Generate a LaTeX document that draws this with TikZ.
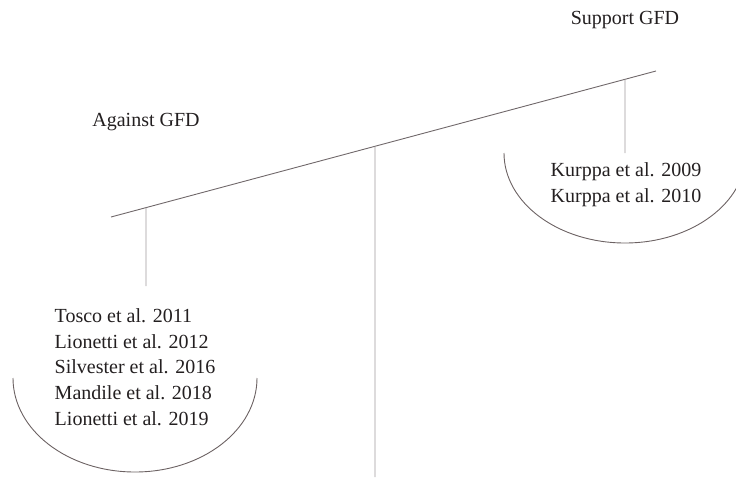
\documentclass[tikz,border=0pt]{standalone}
\usepackage{xcolor}
\usepackage{fontspec}
\setmainfont{Liberation Serif}
\usepackage{tikz}
\usetikzlibrary{
	arrows,
	arrows.meta,
	calc,
	positioning,
	}
\definecolor{beamgray}{RGB}{112,104,106}
\definecolor{hanggray}{RGB}{158,153,156}
\definecolor{arcgray}{RGB}{108,98,99}
\definecolor{txt}{RGB}{35,31,32}

\begin{document}
\begin{tikzpicture}[x=1pt, y=-1pt, font=\fontsize{20}{25.7}\selectfont]
			\useasboundingbox (0,0) rectangle (736,477);
			\coordinate (bl) at (111,217);
			\coordinate (br) at (656,71);
			\coordinate (piv) at ($(bl)!0.4844!(br)$);
			\coordinate (foot) at (375,477);
			\coordinate (hl) at ($(bl)!0.0642!(br)$);
			\coordinate (hr) at ($(bl)!0.9431!(br)$);
			\coordinate (hlb) at (146,286);
			\coordinate (hrb) at (625,153);
			\coordinate (al) at (13,378);
			\coordinate (ar) at (504,153);
			\node[text=txt] (against) at (146,122) {Against GFD};
			\node[text=txt] (support) at (625,20) {Support GFD};
			\node[text=txt, align=left] (contra) at (135,367) {Tosco et al. 2011\\Lionetti et al. 2012\\Silvester et al. 2016\\Mandile et al. 2018\\Lionetti et al. 2019};
			\node[text=txt, align=left] (pro) at (626,185) {Kurppa et al. 2009\\Kurppa et al. 2010};
			\draw[-, beamgray, line width=0.9pt] (bl) -- (br);
			\draw[-, hanggray, line width=0.9pt] (piv) -- (foot);
			\draw[-, hanggray, line width=0.9pt] (hl) -- (hlb);
			\draw[-, hanggray, line width=0.9pt] (hr) -- (hrb);
			\draw[-, arcgray, line width=0.9pt] (al) arc[start angle=180, end angle=0, x radius=122, y radius=94];
			\draw[-, arcgray, line width=0.9pt] (ar) arc[start angle=180, end angle=0, x radius=121, y radius=90];
		\end{tikzpicture}
\end{document}
